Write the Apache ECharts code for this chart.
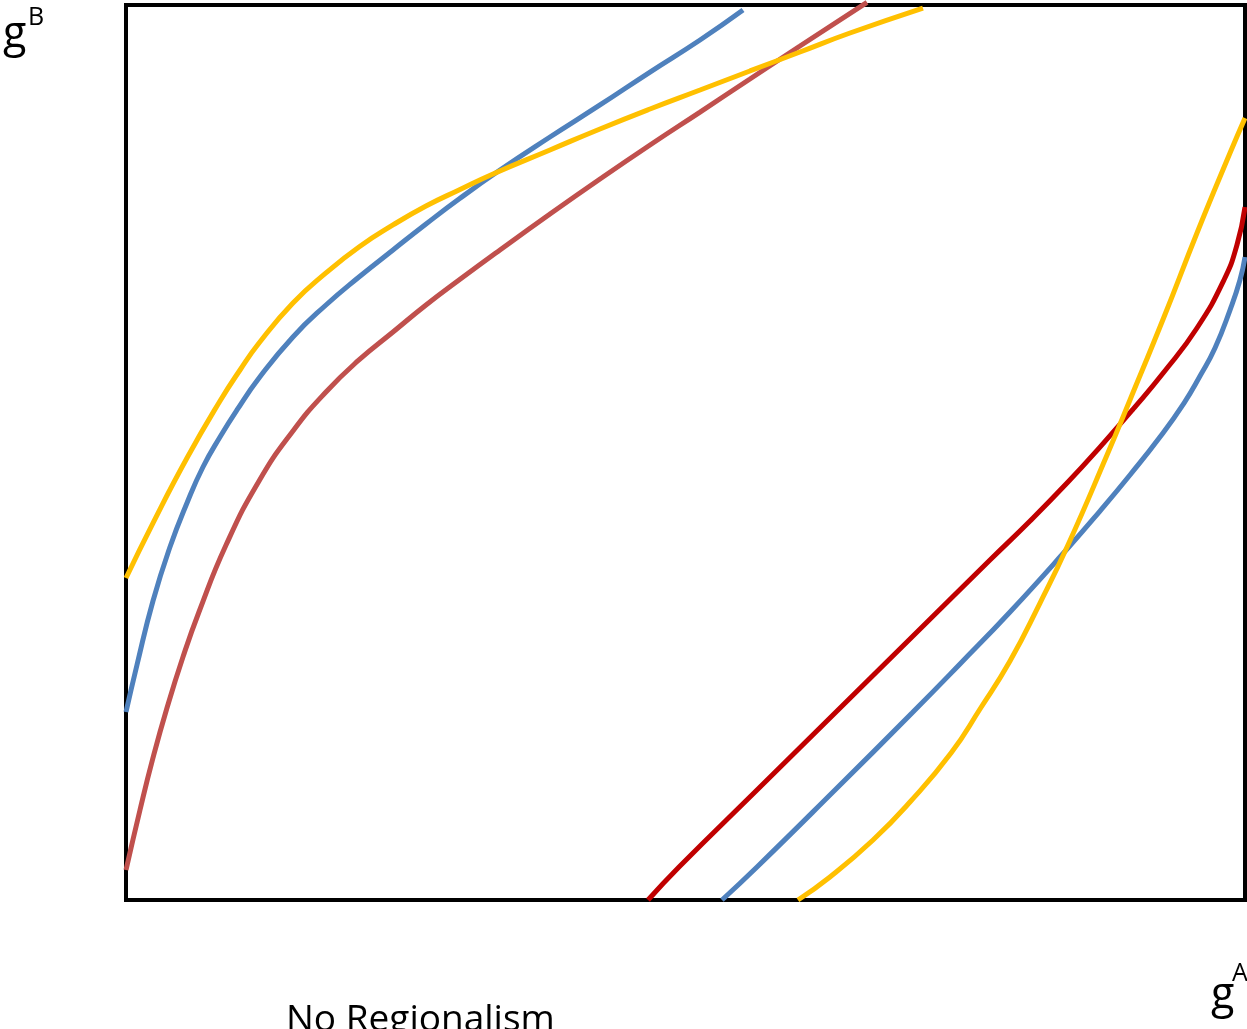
<!DOCTYPE html>
<html><head><meta charset="utf-8">
<script src="https://cdn.jsdelivr.net/npm/echarts@6/dist/echarts.min.js"></script>
<style>html,body{margin:0;padding:0;background:#fff}#c{width:1247px;height:1029px}</style>
</head><body><div id="c"></div>
<script>
// values, axis scale 0..100 on both axes (gA horizontal, gB vertical)
const blueUpper = [[0,21.0],[0.98,26.26],[2.41,33.41],[3.93,39.44],[5.45,44.36],[6.88,48.38],[8.40,51.73],[9.92,54.75],[11.89,58.32],[14.92,62.91],[17.87,66.48],[20.82,69.61],[23.86,72.63],[26.81,75.53],[29.76,78.32],[33.42,81.56],[37.89,85.25],[42.36,88.83],[46.83,92.51],[51.30,96.09],[55.14,99.44]];
const yellowUpper = [[0,35.98],[2.41,42.12],[5.45,49.39],[8.40,55.75],[10.19,59.22],[11.89,62.23],[14.92,66.70],[17.87,70.06],[20.82,72.96],[23.86,75.42],[26.81,77.54],[29.76,79.33],[32.80,81.12],[37.89,83.80],[42.36,86.15],[46.83,88.38],[51.30,90.50],[55.76,92.63],[60.23,94.75],[64.70,96.87],[71.22,99.66]];
const redUpper = [[0,3.35],[1.25,10.06],[2.41,15.87],[3.66,21.45],[5.09,27.15],[6.52,32.18],[8.94,39.66],[11.89,46.82],[14.92,52.4],[17.87,56.76],[20.82,60.34],[23.86,63.46],[26.81,66.48],[29.76,69.27],[33.42,72.63],[37.89,76.65],[42.36,80.56],[46.83,84.36],[51.30,88.04],[55.76,91.73],[60.23,95.42],[66.22,100.3]];
const redLower = [[46.65,0],[49.42,3.69],[56.39,12.29],[63.36,20.89],[70.24,29.39],[77.21,37.99],[80.79,42.35],[84.18,46.70],[87.04,50.61],[90.08,54.97],[92.76,58.99],[95.71,63.91],[98.12,69.27],[99.28,73.18],[100,77.43]];
const blueLower = [[53.26,0],[56.39,3.69],[63.36,12.29],[70.24,20.89],[74.53,26.37],[79.0,32.18],[84.18,39.33],[87.04,43.46],[89.72,47.49],[92.40,51.73],[94.55,55.53],[95.98,58.55],[97.32,61.68],[98.66,65.92],[99.55,69.27],[100,71.84]];
const yellowLower = [[60.05,0],[62.91,2.57],[66.76,6.70],[70.06,10.95],[73.73,16.42],[76.32,21.34],[79.0,26.70],[81.68,33.18],[84.18,39.66],[87.67,49.72],[89.72,55.87],[92.76,65.14],[95.71,74.53],[98.66,83.46],[100,87.37]];
const caption = 'No Regionalism';
const yLabel = ['g','B'];
const xLabel = ['g','A'];

const FONT = '"Open Sans", sans-serif';
function ser(data, color){
  return {type:'line', data, smooth:0.5, showSymbol:false, clip:false,
    lineStyle:{color, width:5, cap:'butt'}, itemStyle:{color}, silent:true};
}
const chart = echarts.init(document.getElementById('c'));
chart.setOption({
  animation:false,
  grid:{left:126, right:2, top:5, bottom:129, show:true, borderColor:'#000', borderWidth:4, backgroundColor:'transparent'},
  xAxis:{type:'value', min:0, max:100, show:false},
  yAxis:{type:'value', min:0, max:100, show:false},
  series:[
    ser(blueUpper,'#4F81BD'),
    ser(redUpper,'#C0504D'),
    ser(yellowUpper,'#FFC000'),
    ser(redLower,'#C00000'),
    ser(blueLower,'#4F81BD'),
    ser(yellowLower,'#FFC000')
  ],
  graphic:[
    {type:'text', left:3, top:13, style:{text:yLabel[0], font:'43px '+FONT, fill:'#000'}},
    {type:'text', left:28, top:5, style:{text:yLabel[1], font:'25px '+FONT, fill:'#000'}},
    {type:'text', left:1211, top:974, style:{text:xLabel[0], font:'43px '+FONT, fill:'#000'}},
    {type:'text', left:1232, top:961, style:{text:xLabel[1], font:'25px '+FONT, fill:'#000'}},
    {type:'text', left:286, top:1002, style:{text:caption, font:'37px '+FONT, fill:'#000'}}
  ]
});
</script></body></html>
